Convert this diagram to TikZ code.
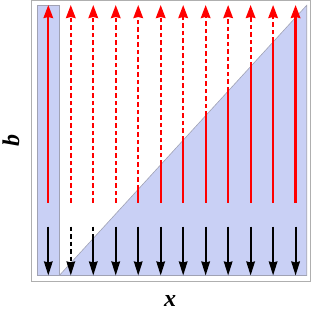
\documentclass[tikz,border=0pt]{standalone}
\usepackage{fontspec}
\setmainfont{Liberation Serif}
\usetikzlibrary{arrows.meta}
\definecolor{regionblue}{RGB}{201,208,245}
\definecolor{framegray}{RGB}{175,175,175}
\definecolor{edgegray}{RGB}{160,162,180}

\begin{document}
\begin{tikzpicture}[
    x=1pt, y=-1pt,
    region/.style={fill=regionblue, draw=edgegray, line width=0.6pt},
    upline/.style={red, line width=2.2pt},
    downline/.style={black, line width=2pt},
    dashpart/.style={dash pattern=on 4.5pt off 3pt},
    uptip/.style={-{Stealth[length=13pt, width=9.5pt, inset=1pt]}},
    downtip/.style={-{Stealth[length=14pt, width=8.5pt, inset=1pt]}},
    lbl/.style={font=\fontsize{24}{24}\selectfont\bfseries\itshape, inner sep=0pt}
  ]
  \useasboundingbox (0,0) rectangle (313,313);
  \draw[framegray, line width=0.8pt] (31,0.5) rectangle (310,281.5);

  % shaded strip and triangle
  \draw[region] (37,5.3) rectangle (59.3,275.5);
  \draw[region] (59.3,275.5) -- (306.7,5.3) -- (306.7,275.5) -- cycle;

  % arrows, dashed above the diagonal
  \foreach \i in {0,...,11} {
    \pgfmathsetmacro\xa{48.3+22.48*\i}
    \pgfmathsetmacro\yd{ifthenelse(\i==0, 0, 275.5-1.0922*(\xa-59.3))}
    \pgfmathsetmacro\yr{max(18, min(202.5, \yd))}
    \pgfmathsetmacro\yk{max(226.5, min(262, \yd))}
    \coordinate (rb\i) at (\xa,202.5);
    \coordinate (rm\i) at (\xa,\yr);
    \coordinate (rt\i) at (\xa,5);
    \coordinate (kt\i) at (\xa,226.5);
    \coordinate (km\i) at (\xa,\yk);
    \coordinate (kb\i) at (\xa,275.5);
    \draw[upline] (rb\i) -- (rm\i);
    \draw[upline, dashpart, uptip] (rm\i) -- (rt\i);
    \draw[downline, dashpart] (kt\i) -- (km\i);
    \draw[downline, downtip] (km\i) -- (kb\i);
  }

  \node[lbl, rotate=90] (blabel) at (11,140) {b};
  \node[lbl] (xlabel) at (170,301) {x};
\end{tikzpicture}
\end{document}
